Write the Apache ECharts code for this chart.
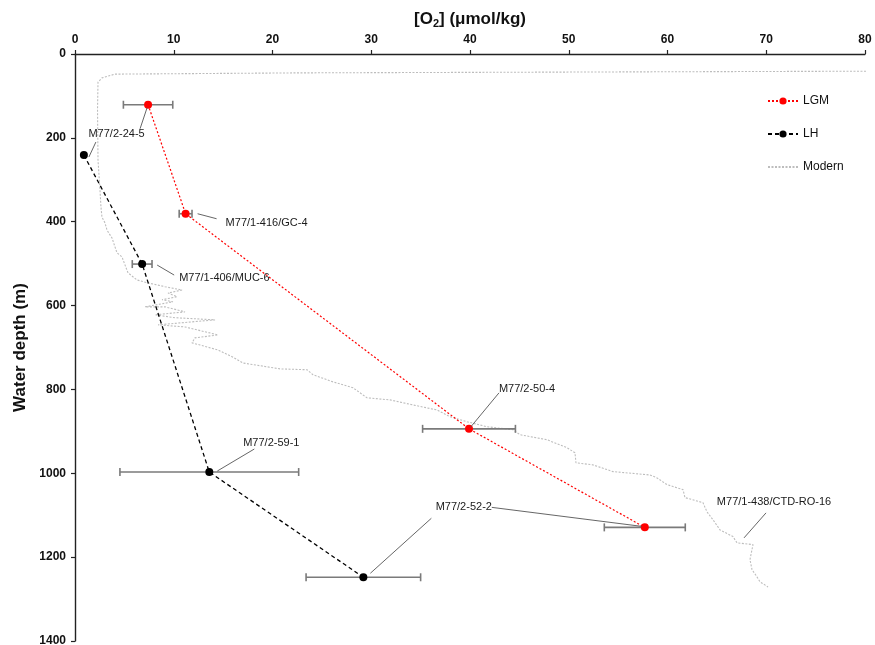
<!DOCTYPE html>
<html>
<head>
<meta charset="utf-8">
<title>Oxygen profiles</title>
<script src="https://cdn.jsdelivr.net/npm/echarts@6/dist/echarts.min.js"></script>
<style>
  html, body { margin: 0; padding: 0; background: #fff; }
  #chart { width: 875px; height: 645px; }
</style>
</head>
<body>
<div id="chart"></div>
<script>
// Reconstructed glacial (LGM) and Late Holocene (LH) bottom-water oxygen
// estimates with uncertainties, plotted over a modern CTD oxygen profile.
const lgmNames = ['M77/2-24-5', 'M77/1-416/GC-4', 'M77/2-50-4', 'M77/2-52-2'];
const lgmO2 = [7.4, 11.2, 39.9, 57.7];
const lgmDepth = [121, 381, 894, 1129];
const lgmErr = [2.5, 0.65, 4.7, 4.1];

const lhNames = ['M77/2-24-5', 'M77/1-406/MUC-6', 'M77/2-59-1', 'M77/2-52-2'];
const lhO2 = [0.9, 6.8, 13.6, 29.2];
const lhDepth = [241, 501, 997, 1248];
const lhErr = [0, 1.0, 9.05, 5.8];

// Modern profile (CTD cast M77/1-438/CTD-RO-16)
const modernO2 = [80.1, 22.8, 4.05, 2.73, 2.33, 2.28, 2.33, 2.53, 2.63, 2.73, 3.04, 3.24, 3.75, 4.05, 4.25, 4.76, 5.06, 5.37, 6.28, 7.39,
  9.11, 10.84, 9.42, 10.33, 8.81, 9.92, 7.09, 9.11, 11.14, 8.10, 10.13, 14.18, 8.41, 11.14, 14.48, 12.15, 11.85, 12.66, 14.48, 15.90,
  17.01, 19.44, 20.76, 23.49, 24.10, 26.13, 28.15, 29.57, 31.90, 34.23, 36.66, 37.97, 39.70, 41.72, 44.35, 45.06, 47.80, 49.82, 50.63, 50.73,
  52.46, 54.48, 58.23, 58.94, 59.95, 61.57, 61.77, 63.59, 64.00, 64.61, 65.32, 66.63, 67.04, 68.66, 68.35, 68.56, 69.06, 69.37, 70.18];
const modernDepth = [41, 45, 48, 57, 67, 133, 253, 324, 365, 389, 403, 420, 439, 460, 474, 484, 503, 522, 539, 546,
  555, 563, 570, 579, 586, 591, 603, 603, 615, 622, 629, 634, 646, 651, 670, 677, 689, 694, 706, 722,
  737, 746, 751, 753, 765, 782, 796, 820, 825, 837, 849, 865, 877, 889, 896, 908, 920, 939, 951, 975,
  980, 996, 1004, 1011, 1027, 1039, 1058, 1070, 1092, 1111, 1135, 1151, 1166, 1170, 1206, 1230, 1247, 1259, 1271];
const modernName = 'M77/1-438/CTD-RO-16';

const xTicks = [0, 10, 20, 30, 40, 50, 60, 70, 80];
const yTicks = [0, 200, 400, 600, 800, 1000, 1200, 1400];

const FONT = '"Liberation Sans", Arial, Helvetica, sans-serif';

// point lookup for label callouts
function pointOf(set, i) {
  if (set === 'LGM') return [lgmO2[i], lgmDepth[i]];
  if (set === 'LH') return [lhO2[i], lhDepth[i]];
  return [modernO2[i], modernDepth[i]];
}

// Callouts: text and leader lines, offsets in pixels from the referenced point
const callouts = [
  { text: lgmNames[0], at: ['LGM', 0], textOff: [-31.5, 29.5], align: 'center',
    legs: [{ on: ['LGM', 0], from: [-1, 3], to: [-8, 24] }, { on: ['LH', 0], from: [5, 2], to: [12, -13] }] },
  { text: lgmNames[1], at: ['LGM', 1], textOff: [40, 9], align: 'left',
    legs: [{ on: ['LGM', 1], from: [12, 0], to: [31, 5] }] },
  { text: lhNames[1], at: ['LH', 1], textOff: [37, 14], align: 'left',
    legs: [{ on: ['LH', 1], from: [15, 1], to: [32, 11] }] },
  { text: lhNames[2], at: ['LH', 2], textOff: [62, -29], align: 'center',
    legs: [{ on: ['LH', 2], from: [8, -1], to: [45, -23] }] },
  { text: lgmNames[2], at: ['LGM', 2], textOff: [58, -40], align: 'center',
    legs: [{ on: ['LGM', 2], from: [1, -1], to: [30, -36] }] },
  { text: lgmNames[3], at: ['LGM', 3], textOff: [-181, -20], align: 'center',
    legs: [{ on: ['LGM', 3], from: [-3, -1], to: [-153, -20] }, { on: ['LH', 3], from: [7, -4], to: [68, -59] }] },
  { text: modernName, at: ['MOD', 72], textOff: [37, -41], align: 'center',
    legs: [{ on: ['MOD', 72], from: [7, -5], to: [29, -30] }] }
];

function errorBarSeries(o2, depth, err, z) {
  return {
    type: 'custom',
    name: 'errbar',
    silent: true,
    z: z,
    data: o2.map((v, i) => [v, depth[i], err[i]]),
    renderItem: function (params, api) {
      const e = api.value(2);
      if (!e) return null;
      const y = api.value(1);
      const a = api.coord([api.value(0) - e, y]);
      const b = api.coord([api.value(0) + e, y]);
      const cap = 4;
      const st = { stroke: '#7a7a7a', lineWidth: 1.6 };
      return {
        type: 'group',
        children: [
          { type: 'line', shape: { x1: a[0], y1: a[1], x2: b[0], y2: b[1] }, style: st },
          { type: 'line', shape: { x1: a[0], y1: a[1] - cap, x2: a[0], y2: a[1] + cap }, style: st },
          { type: 'line', shape: { x1: b[0], y1: b[1] - cap, x2: b[0], y2: b[1] + cap }, style: st }
        ]
      };
    }
  };
}

const chart = echarts.init(document.getElementById('chart'), null, { renderer: 'canvas' });

const option = {
  animation: false,
  backgroundColor: '#ffffff',
  grid: { left: 75, right: 10, top: 54, bottom: 4, containLabel: false, outerBoundsMode: 'none' },
  legend: {
    orient: 'vertical',
    left: 762,
    top: 90,
    itemWidth: 30,
    itemHeight: 9,
    itemGap: 21,
    data: ['LGM', 'LH', { name: 'Modern', itemStyle: { opacity: 0 } }],
    textStyle: { fontFamily: FONT, fontSize: 12, color: '#111' }
  },
  xAxis: {
    type: 'value',
    position: 'top',
    min: xTicks[0],
    max: xTicks[xTicks.length - 1],
    interval: 10,
    name: '[O{sub|2}] (μmol/kg)',
    nameLocation: 'middle',
    nameGap: 25,
    nameTextStyle: {
      fontFamily: FONT, fontSize: 17, fontWeight: 'bold', color: '#111',
      rich: { sub: { fontFamily: FONT, fontSize: 11, fontWeight: 'bold', color: '#111', verticalAlign: 'bottom', padding: [8, 0, 0, 0] } }
    },
    axisLine: { show: true, lineStyle: { color: '#222', width: 1.4 } },
    axisTick: { show: true, length: 4, lineStyle: { color: '#222', width: 1.2 } },
    axisLabel: { fontFamily: FONT, fontSize: 12, fontWeight: 'bold', color: '#111', margin: 8 },
    splitLine: { show: false }
  },
  yAxis: {
    type: 'value',
    inverse: true,
    min: yTicks[0],
    max: yTicks[yTicks.length - 1],
    interval: 200,
    name: 'Water depth (m)',
    nameLocation: 'middle',
    nameGap: 46,
    nameTextStyle: { fontFamily: FONT, fontSize: 17, fontWeight: 'bold', color: '#111' },
    axisLine: { show: true, lineStyle: { color: '#222', width: 1.4 } },
    axisTick: { show: true, length: 4, lineStyle: { color: '#222', width: 1.2 } },
    axisLabel: { fontFamily: FONT, fontSize: 12, fontWeight: 'bold', color: '#111', margin: 9,
      formatter: function (v) { return String(v); } },
    splitLine: { show: false }
  },
  series: [
    {
      name: 'Modern',
      type: 'line',
      z: 1,
      symbol: 'none',
      silent: true,
      data: modernO2.map((v, i) => [v, modernDepth[i]]),
      itemStyle: { color: '#bdbdbd' },
      lineStyle: { color: '#bdbdbd', width: 1.1, type: [2, 1.5] }
    },
    errorBarSeries(lgmO2, lgmDepth, lgmErr, 2),
    errorBarSeries(lhO2, lhDepth, lhErr, 2),
    {
      name: 'LGM',
      type: 'line',
      z: 4,
      symbol: 'circle',
      symbolSize: 8,
      data: lgmO2.map((v, i) => [v, lgmDepth[i]]),
      itemStyle: { color: '#ff0000' },
      lineStyle: { color: '#ff0000', width: 1.2, type: [2, 2] }
    },
    {
      name: 'LH',
      type: 'line',
      z: 4,
      symbol: 'circle',
      symbolSize: 8,
      data: lhO2.map((v, i) => [v, lhDepth[i]]),
      itemStyle: { color: '#000000' },
      lineStyle: { color: '#000000', width: 1.3, type: [4, 3] }
    },
    {
      type: 'custom',
      name: 'callouts',
      silent: true,
      z: 5,
      data: callouts.map((c, i) => [i]),
      renderItem: function (params, api) {
        const c = callouts[api.value(0)];
        const children = [];
        c.legs.forEach(function (leg) {
          const p = api.coord(pointOf(leg.on[0], leg.on[1]));
          children.push({
            type: 'line',
            shape: { x1: p[0] + leg.from[0], y1: p[1] + leg.from[1], x2: p[0] + leg.to[0], y2: p[1] + leg.to[1] },
            style: { stroke: '#555', lineWidth: 0.9 }
          });
        });
        const a = api.coord(pointOf(c.at[0], c.at[1]));
        children.push({
          type: 'text',
          style: {
            x: a[0] + c.textOff[0], y: a[1] + c.textOff[1],
            text: c.text, fill: '#1a1a1a',
            font: '11px ' + FONT,
            align: c.align, verticalAlign: 'middle'
          }
        });
        return { type: 'group', children: children };
      }
    }
  ]
};

chart.setOption(option);
</script>
</body>
</html>
